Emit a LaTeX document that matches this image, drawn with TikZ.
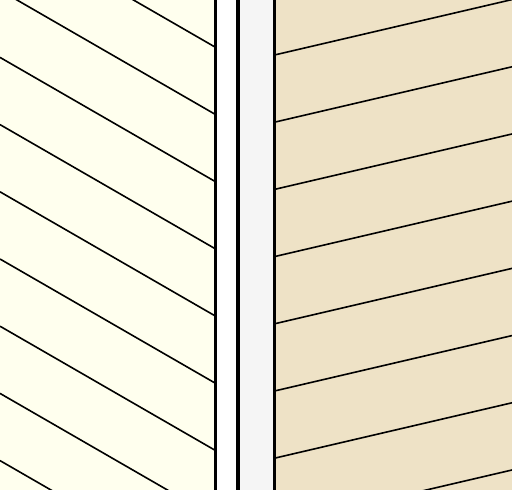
\documentclass[tikz,border=0pt]{standalone}

\definecolor{plaster}{RGB}{255,255,238}
\definecolor{timber}{RGB}{238,226,198}
\definecolor{cavity}{RGB}{245,245,245}

\begin{document}
\begin{tikzpicture}[
    x=1pt, y=-1pt,
    hatch/.style={line width=1.6pt, black},
    edge/.style={line width=3pt, black}
  ]

  \useasboundingbox (0,0) rectangle (512,490);

  \fill[plaster] (0,0) rectangle (215.5,490);
  \fill[white] (215.5,0) rectangle (238,490);
  \fill[cavity] (238,0) rectangle (274.5,490);
  \fill[timber] (274.5,0) rectangle (512,490);

  \begin{scope}
    \clip (0,0) rectangle (215.5,490);
    \foreach \k in {-1,...,7} {
        \draw[hatch] (0,{-9.8+67.2*\k}) -- ++(216,124.6);
      }
  \end{scope}

  \begin{scope}
    \clip (274.5,0) rectangle (512,490);
    \foreach \k in {-1,...,7} {
        \draw[hatch] (274.5,{55+67.2*\k}) -- ++(240,-56);
      }
  \end{scope}

  \draw[edge] (215.5,0) -- (215.5,490);
  \draw[edge, line width=3.5pt] (238,0) -- (238,490);
  \draw[edge] (274.5,0) -- (274.5,490);

\end{tikzpicture}
\end{document}
